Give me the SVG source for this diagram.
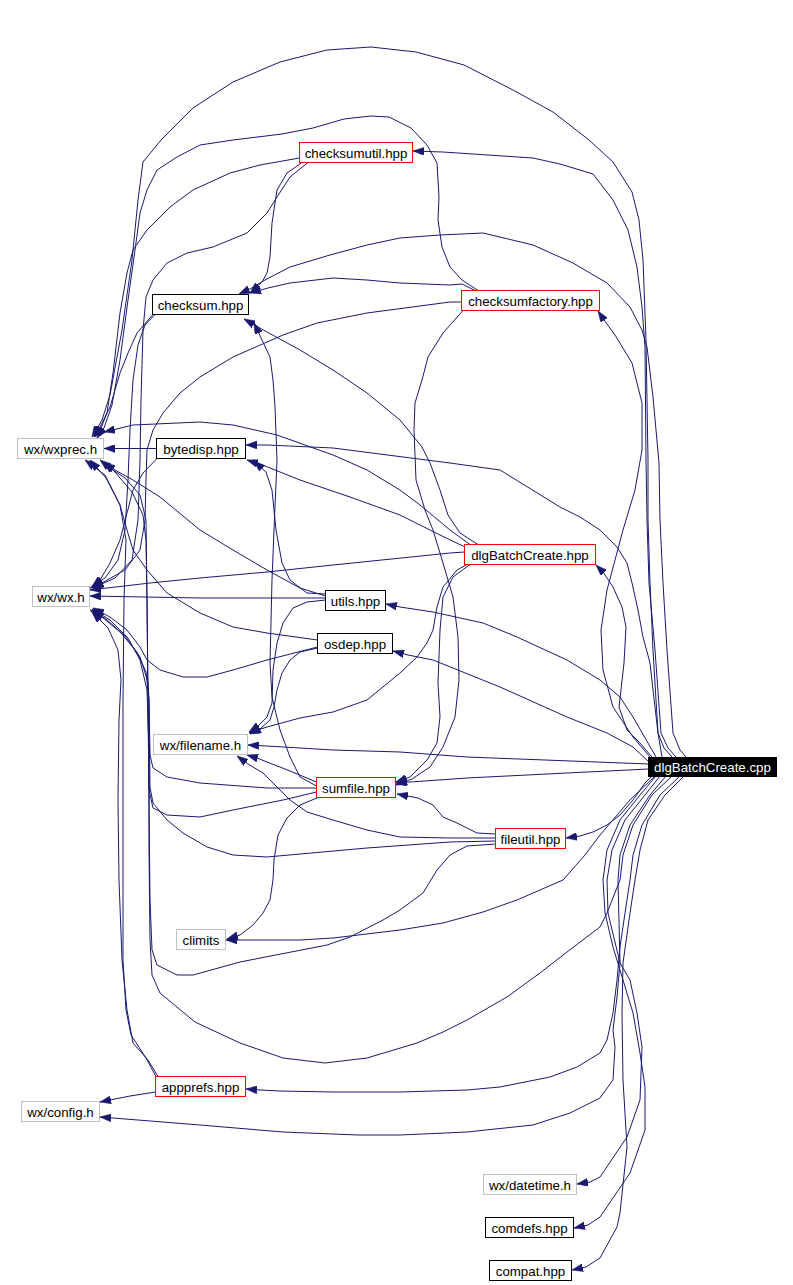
<svg xmlns="http://www.w3.org/2000/svg" width="793" height="1285" viewBox="0 0 793 1285">
<style>
.nb{fill:#ffffff;stroke-width:1}
.red{stroke:#ff0000}
.blk{stroke:#000000}
.gry{stroke:#bfbfbf}
text{font-family:"Liberation Sans",Arial,Helvetica,sans-serif;font-size:13.3px;text-anchor:middle;fill:#000000}
#edges path{fill:none;stroke:#191970;stroke-width:1;marker-end:url(#ah)}
</style>
<defs>
<marker id="ah" viewBox="0 0 11 8" refX="11" refY="4" markerWidth="11" markerHeight="8" markerUnits="userSpaceOnUse" orient="auto">
<path d="M0,0 L11,4 L0,8 Z" fill="#191970" stroke="#191970" stroke-width="0.5"/>
</marker>
</defs>
<rect x="0" y="0" width="793" height="1285" fill="#ffffff"/>
<g id="edges">
<path d="M672,757 L664,748 L658,733 L653,650 L650,583 L648,520 L648,460 L646,340 L643,260 L639,220 L632,192 L613,162 L589,140 L553,112 L513,90 L464,65 L416,52 L371,47 L327,50 L280,62 L233,82 L193,108 L161,140 L143,162 L138,200 L132,260 L122,330 L110,395 L102,420 L92,437"/>
<path d="M676,757 L668,748 L661,733 L655,650 L649,583 L647,520 L646,460 L645,347 L642,307 L637,267 L628,230 L613,200 L593,174 L560,164 L533,158 L443,152 L413,151"/>
<path d="M686,757 L680,750 L673,733 L667,650 L663,583 L660,520 L659,463 L653,397 L647,347 L642,330 L630,307 L607,283 L573,263 L533,245 L483,233 L440,235 L400,238 L367,245 L330,255 L290,267 L265,280 L250,289 L239,294"/>
<path d="M475,290.5 L462,284 L450,285 L400,283 L367,280 L333,278 L290,283 L268,288 L250,293"/>
<path d="M478,290.5 L462,280 L450,267 L442,247 L438,220 L439,197 L437,163 L427,145 L411,128 L389,117 L371,116 L344,119 L313,128 L282,134 L233,140 L200,145 L177,157 L157,170 L147,190 L140,213 L135,250 L128,300 L120,360 L112,405 L104,428 L97,438"/>
<path d="M461.5,302 L450,302 L367,313 L317,323 L283,335 L233,357 L200,377 L180,393 L163,413 L153,430 L147,450 L146,480 L145,520 L140,550 L125,570 L100,584 L90,588"/>
<path d="M463,310.5 L443,333 L428,357 L422,380 L415,403 L414,430 L416,480 L425,510 L433,530 L443,563 L453,597 L458,637 L459,680 L455,717 L443,747 L430,767 L412,779 L396,785"/>
<path d="M650,757 L633,737 L613,707 L603,670 L601,630 L607,590 L623,530 L635,490 L642,450 L642,403 L632,363 L615,335 L604,320 L598,311"/>
<path d="M652,757 L640,743 L627,730 L619,707 L624,663 L626,627 L622,607 L613,587 L603,572 L596,565"/>
<path d="M662,757 L658,733 L653,690 L650,663 L643,637 L638,610 L632,583 L627,563 L617,547 L600,530 L580,517 L560,507 L500,470 L450,463 L333,448 L267,445 L246,445"/>
<path d="M656,757 L648,743 L633,717 L620,697 L600,680 L567,660 L517,637 L483,623 L433,612 L400,607 L386,604"/>
<path d="M649,762 L633,747 L607,733 L567,717 L500,687 L433,660 L408,655 L393,651"/>
<path d="M648.5,764 L467,757 L400,752 L333,750 L267,746 L248,745"/>
<path d="M648.5,769 L567,773 L467,778 L410,782 L396,783"/>
<path d="M652,776 L645,783 L633,800 L620,815 L607,825 L593,832 L580,836 L566,838"/>
<path d="M655,776 L630,800 L600,835 L585,855 L563,880 L517,900 L483,912 L443,923 L400,930 L333,938 L300,940 L226,940"/>
<path d="M660,776 L645,795 L625,820 L612,850 L607,880 L608,913 L620,963 L630,980 L637,1013 L642,1047 L640,1100 L627,1137 L600,1177 L590,1182 L577,1184"/>
<path d="M656,776 L640,795 L620,820 L607,850 L603,880 L605,913 L613,947 L623,980 L633,1013 L640,1053 L645,1087 L645,1130 L630,1173 L600,1217 L588,1225 L574,1228"/>
<path d="M684,776 L665,795 L648,820 L640,850 L635,880 L630,913 L623,963 L622,1013 L623,1080 L627,1147 L620,1213 L617,1227 L600,1258 L586,1267 L572,1270"/>
<path d="M666,776 L650,795 L630,825 L620,855 L618,880 L620,963 L617,997 L613,1030 L615,1047 L613,1080 L600,1098 L570,1113 L533,1125 L467,1132 L400,1135 L358,1135 L283,1132 L200,1125 L113,1118 L100,1117"/>
<path d="M680,776 L660,795 L642,825 L633,855 L630,880 L625,913 L620,947 L617,980 L613,1013 L607,1040 L600,1053 L577,1067 L550,1077 L500,1087 L467,1090 L400,1092 L333,1092 L280,1091 L260,1090 L246,1089"/>
<path d="M672,776 L652,795 L633,825 L623,855 L620,880 L607,913 L600,927 L567,952 L540,973 L507,997 L467,1020 L443,1032 L417,1043 L367,1058 L325,1063 L283,1058 L240,1043 L195,1022 L160,993 L152,975 L150,940 L149,850 L149,750 L147,690 L140,660 L128,638 L110,620 L92,609"/>
<path d="M495.5,838 L450,838 L400,837 L367,830 L333,820 L307,812 L290,800 L277,787 L263,773 L248,764 L237,756"/>
<path d="M495.5,834 L477,833 L457,823 L443,817 L433,805 L418,798 L397,794"/>
<path d="M495.5,841 L450,842 L367,848 L267,857 L233,855 L207,847 L183,833 L167,820 L153,803 L150,787 L149,700 L146,672 L137,652 L120,632 L102,617 L90,610"/>
<path d="M495.5,844 L467,846 L450,855 L437,870 L423,893 L400,910 L383,920 L350,937 L327,945 L240,962 L193,975 L177,975 L157,965 L152,950 L150,900 L149,800 L148,700 L147,600 L146,520 L140,495 L125,478 L110,468 L100,460"/>
<path d="M316.5,782 L290,771 L267,762 L257,758 L247,755"/>
<path d="M318,797.5 L300,805 L287,818 L278,835 L274,860 L273,880 L270,900 L263,913 L253,925 L240,935 L227,939"/>
<path d="M316.5,786 L300,777 L290,757 L280,730 L272,697 L270,663 L272,580 L274,530 L277,460 L275,407 L273,380 L270,357 L262,340 L254,323"/>
<path d="M316.5,788 L267,788 L200,783 L167,777 L153,768 L150,755 L149,700 L148,682 L140,657 L125,636 L106,619 L93,611"/>
<path d="M316.5,792 L283,800 L233,810 L200,817 L167,815 L153,808 L149,790 L148,700 L147,600 L146,540 L143,515 L132,492 L115,472 L104,462"/>
<path d="M317.5,648 L300,652 L290,660 L282,673 L277,690 L274,707 L270,720 L260,729 L250,734"/>
<path d="M325.5,600 L307,602 L293,608 L283,623 L277,643 L273,670 L272,703 L267,717 L258,726 L249,732"/>
<path d="M317.5,647 L267,660 L233,670 L207,677 L183,677 L160,670 L147,660 L140,647 L127,630 L110,617 L93,608"/>
<path d="M317.5,640 L267,633 L233,627 L200,613 L167,593 L147,570 L133,550 L127,530 L120,505 L106,478 L90,460"/>
<path d="M325.5,598 L200,598 L90,596"/>
<path d="M325.5,596 L300,588 L267,570 L233,550 L200,530 L160,497 L133,480 L115,470 L104,463"/>
<path d="M325.5,594 L307,593 L290,580 L282,563 L276,530 L272,490 L266,472 L254,461"/>
<path d="M464.5,552 L450,553 L333,565 L267,572 L200,578 L150,583 L90,590"/>
<path d="M478,544.5 L460,533 L448,515 L440,490 L430,463 L422,447 L400,420 L367,393 L333,370 L300,350 L267,332 L244,319"/>
<path d="M465,547 L440,535 L400,515 L350,497 L300,480 L265,466 L247,460"/>
<path d="M470,544.5 L450,530 L420,505 L400,490 L367,470 L333,455 L277,435 L233,425 L200,422 L133,425 L104,432"/>
<path d="M467,564.5 L457,570 L443,587 L437,607 L433,630 L427,643 L417,657 L400,673 L367,700 L333,712 L300,718 L267,727 L249,733"/>
<path d="M470,564.5 L453,577 L443,597 L440,630 L438,683 L440,717 L437,743 L427,760 L410,777 L396,782"/>
<path d="M152.5,315 L137,333 L128,353 L120,373 L110,407 L100,427 L94,437"/>
<path d="M155,314.5 L145,325 L138,345 L133,380 L130,430 L128,480 L125,530 L118,560 L105,578 L92,586"/>
<path d="M299.5,158 L260,165 L230,173 L193,190 L170,207 L147,230 L133,250 L127,273 L120,313 L113,373 L107,413 L101,428 L95,437"/>
<path d="M302,162.5 L287,173 L277,190 L272,223 L270,257 L267,273 L262,282 L250,293"/>
<path d="M308,162.5 L290,177 L277,197 L267,213 L247,233 L213,247 L187,253 L167,263 L153,280 L146,297 L143,330 L141,400 L140,460 L138,520 L132,560 L115,578 L93,588"/>
<path d="M156.5,448.5 L104,448.5"/>
<path d="M157,458.5 L143,473 L133,490 L127,513 L120,540 L110,563 L100,580 L92,587"/>
<path d="M155.5,1092 L130,1096 L100,1102"/>
<path d="M158,1076.5 L148,1060 L133,1043 L127,1010 L122,960 L119,880 L118,800 L119,720 L121,680 L118,650 L108,628 L92,612"/>
<path d="M156,1076.5 L146,1058 L131,1035 L126,1010 L123,960 L123,880 L123,700 L124,600 L126,540 L120,505 L105,475 L85,460"/>
</g>
<g id="n_checksumutil"><rect class="nb red" x="299.5" y="142.5" width="113" height="20"/><text x="356" y="158">checksumutil.hpp</text></g>
<g id="n_checksum"><rect class="nb blk" x="152.5" y="294.5" width="96" height="20"/><text x="200.5" y="310">checksum.hpp</text></g>
<g id="n_wxprec"><rect class="nb gry" x="17.5" y="438.5" width="86" height="20"/><text x="60.5" y="454">wx/wxprec.h</text></g>
<g id="n_bytedisp"><rect class="nb blk" x="156.5" y="438.5" width="89" height="20"/><text x="201" y="454">bytedisp.hpp</text></g>
<g id="n_checksumfactory"><rect class="nb red" x="461.5" y="290.5" width="138" height="20"/><text x="530.5" y="306">checksumfactory.hpp</text></g>
<g id="n_wx"><rect class="nb gry" x="32.5" y="586.5" width="57" height="20"/><text x="61" y="602">wx/wx.h</text></g>
<g id="n_utils"><rect class="nb blk" x="325.5" y="590.5" width="60" height="20"/><text x="355.5" y="606">utils.hpp</text></g>
<g id="n_osdep"><rect class="nb blk" x="317.5" y="633.5" width="75" height="20"/><text x="355" y="649">osdep.hpp</text></g>
<g id="n_filename"><rect class="nb gry" x="153.5" y="734.5" width="94" height="20"/><text x="200.5" y="750">wx/filename.h</text></g>
<g id="n_sumfile"><rect class="nb red" x="316.5" y="777.5" width="79" height="20"/><text x="356" y="793">sumfile.hpp</text></g>
<g id="n_dlgbatchhpp"><rect class="nb red" x="464.5" y="544.5" width="131" height="20"/><text x="530" y="560">dlgBatchCreate.hpp</text></g>
<g id="n_dlgbatchcpp"><rect x="648.5" y="757.5" width="128" height="19" fill="#000000" stroke="#000000"/><text x="712.5" y="772" style="fill:#ffffff">dlgBatchCreate.cpp</text></g>
<g id="n_fileutil"><rect class="nb red" x="495.5" y="828.5" width="70" height="20"/><text x="530.5" y="844">fileutil.hpp</text></g>
<g id="n_climits"><rect class="nb gry" x="176.5" y="929.5" width="49" height="20"/><text x="201" y="945">climits</text></g>
<g id="n_appprefs"><rect class="nb red" x="155.5" y="1076.5" width="90" height="20"/><text x="200.5" y="1092">appprefs.hpp</text></g>
<g id="n_config"><rect class="nb gry" x="21.5" y="1101.5" width="78" height="20"/><text x="60.5" y="1117">wx/config.h</text></g>
<g id="n_datetime"><rect class="nb gry" x="483.5" y="1174.5" width="93" height="20"/><text x="530" y="1190">wx/datetime.h</text></g>
<g id="n_comdefs"><rect class="nb blk" x="485.5" y="1217.5" width="88" height="20"/><text x="529.5" y="1233">comdefs.hpp</text></g>
<g id="n_compat"><rect class="nb blk" x="489.5" y="1260.5" width="82" height="20"/><text x="530.5" y="1276">compat.hpp</text></g>
</svg>
